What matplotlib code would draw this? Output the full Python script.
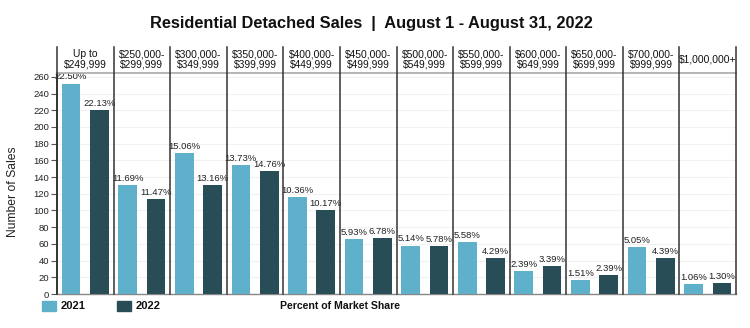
import matplotlib
matplotlib.use("Agg")
import matplotlib.pyplot as plt
from matplotlib.patches import Rectangle
import numpy as np

categories = ["Up to\n$249,999", "$250,000-\n$299,999", "$300,000-\n$349,999",
              "$350,000-\n$399,999", "$400,000-\n$449,999", "$450,000-\n$499,999",
              "$500,000-\n$549,999", "$550,000-\n$599,999", "$600,000-\n$649,999",
              "$650,000-\n$699,999", "$700,000-\n$999,999", "$1,000,000+"]
series_names = ["2021", "2022"]
sales_2021 = [252, 131, 169, 154, 116, 66, 58, 62, 27, 17, 56, 12]
sales_2022 = [220, 114, 131, 147, 101, 67, 57, 43, 34, 23, 43, 13]
share_2021 = ["22.50%", "11.69%", "15.06%", "13.73%", "10.36%", "5.93%",
              "5.14%", "5.58%", "2.39%", "1.51%", "5.05%", "1.06%"]
share_2022 = ["22.13%", "11.47%", "13.16%", "14.76%", "10.17%", "6.78%",
              "5.78%", "4.29%", "3.39%", "2.39%", "4.39%", "1.30%"]
yticks = list(range(0, 261, 20))
colors = ["#5fb0ca", "#294d57"]

plt.rcParams['font.family'] = ['Liberation Sans', 'DejaVu Sans']

W, H = 750, 328
fig = plt.figure(figsize=(W / 100, H / 100), dpi=100)
x0, x1, ybot, ytop = 57, 736, 294, 72.7
ax = fig.add_axes([x0 / W, (H - ybot) / H, (x1 - x0) / W, (ybot - ytop) / H])

n = len(categories)
idx = np.arange(n)
bw = 0.33
for k, (vals, labels) in enumerate([(sales_2021, share_2021), (sales_2022, share_2022)]):
    pos = idx + 0.25 + 0.5 * k
    bars = ax.bar(pos, vals, width=bw, color=colors[k], zorder=3, label=series_names[k])
    for b, lab in zip(bars, labels):
        ax.text(b.get_x() + b.get_width() / 2, b.get_height() + 2.5, lab,
                ha='center', va='bottom', fontsize=6.8, color='#222222', zorder=4)

ax.set_xlim(0, n)
ax.set_ylim(0, 265)
ax.set_yticks(yticks)
ax.set_yticklabels([str(t) for t in yticks], fontsize=6.8, color='#222222')
ax.set_xticks([])
ax.tick_params(axis='y', length=4, width=0.8, color='#555555', pad=1.5)
for y in yticks[1:]:
    ax.axhline(y, color='#f1f1f1', lw=0.8, zorder=0)

for s in ['top', 'right']:
    ax.spines[s].set_visible(False)
ax.spines['left'].set_color('#222222')
ax.spines['left'].set_linewidth(1.2)
ax.spines['bottom'].set_color('#888888')
ax.spines['bottom'].set_linewidth(1.0)

# header separators
head_top = (ybot - 46.7) / (ybot - ytop)
trans = ax.get_xaxis_transform()
for i in range(n + 1):
    ax.plot([i, i], [0, head_top], transform=trans, color='#333333', lw=1.1,
            clip_on=False, zorder=5)
ax.plot([0, n], [1, 1], transform=trans, color='#b0b0b0', lw=1.3, clip_on=False, zorder=4)

head_mid = (ybot - 59.5) / (ybot - ytop)
for i, c in enumerate(categories):
    ax.text(i + 0.5, head_mid, c, transform=trans, ha='center', va='center',
            fontsize=7.4, linespacing=1.05, color='#111111')

fig.text(371 / W, 1 - 23.5 / H, "Residential Detached Sales  |  August 1 - August 31, 2022",
         ha='center', va='center', fontsize=11.8, fontweight='bold', color='#111111')
fig.text(13 / W, 1 - 192 / H, "Number of Sales", rotation=90, ha='center', va='center',
         fontsize=8.7, color='#222222')
fig.text(340 / W, 1 - 306 / H, "Percent of Market Share", ha='center', va='center',
         fontsize=7.6, fontweight='bold', color='#111111')

# legend
leg_x = [42, 117]
for lx, name, col in zip(leg_x, series_names, colors):
    fig.add_artist(Rectangle((lx / W, 1 - 311 / H), 14 / W, 10 / H,
                             transform=fig.transFigure, color=col))
    fig.text((lx + 19) / W, 1 - 306 / H, name, ha='left', va='center',
             fontsize=8, fontweight='bold', color='#111111')

fig.savefig("out.png", dpi=100)
